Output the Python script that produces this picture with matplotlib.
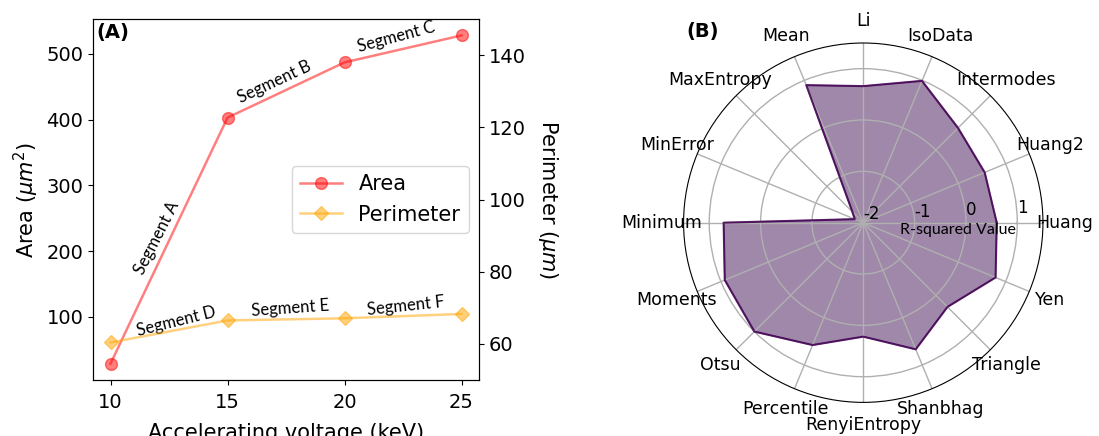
import numpy as np
import matplotlib
matplotlib.use("Agg")
import matplotlib.pyplot as plt

# ---------------- data ----------------
voltage = [10, 15, 20, 25]
area = [29, 403, 487, 528]
perimeter = [60.4, 66.5, 67.1, 68.3]

segment_labels = ["Segment A", "Segment B", "Segment C", "Segment D", "Segment E", "Segment F"]
segment_x = [12.0, 17.0, 22.2, 12.8, 17.7, 22.6]
segment_y = [220, 457, 525, 93, 113, 116]
segment_rot = [63, 25, 15, 14, 4, 6]

methods = ["Huang", "Huang2", "Intermodes", "IsoData", "Li", "Mean", "MaxEntropy",
           "MinError", "Minimum", "Moments", "Otsu", "Percentile", "RenyiEntropy",
           "Shanbhag", "Triangle", "Yen"]
r_squared = [0.60, 0.56, 0.61, 0.99, 0.66, 0.90, -1.70, -1.82, 0.72, 0.92, 1.00,
             0.58, 0.22, 0.67, 0.32, 0.79]
r_ticks = [-2, -1, 0, 1]

seg_font = "Lato"

fig = plt.figure(figsize=(10.99, 4.36), dpi=100)

# ---------------- panel A ----------------
ax = fig.add_axes([0.0846, 0.1284, 0.3513, 0.828])
la, = ax.plot(voltage, area, color="red", alpha=0.5, marker="o", markersize=8.5,
              linewidth=1.8, label="Area")
ax.set_xticks(voltage)
ax.set_yticks([100, 200, 300, 400, 500])
ax.tick_params(labelsize=14)
ax.tick_params(axis="x", pad=6)
ax.set_xlabel("Accelerating voltage (keV)", fontsize=15, labelpad=8)
ax.set_ylabel(r"Area ($\mu m^2$)", fontsize=15)

ax2 = ax.twinx()
lp, = ax2.plot(voltage, perimeter, color="orange", alpha=0.5, marker="D", markersize=7,
               linewidth=1.8, label="Perimeter")
ax2.set_ylim(50, 150)
ax2.set_yticks([60, 80, 100, 120, 140])
ax2.tick_params(labelsize=14)
ax2.set_ylabel(r"Perimeter ($\mu m$)", fontsize=15, rotation=270, labelpad=25)

ax2.legend(handles=[la, lp], loc="center right", fontsize=15)

for t, x, y, r in zip(segment_labels, segment_x, segment_y, segment_rot):
    ax.text(x, y, t, rotation=r, ha="center", va="center", fontsize=12,
            family=seg_font, rotation_mode="anchor")

ax.text(0.008, 0.99, "(A)", transform=ax.transAxes, fontsize=14, fontweight="bold",
        ha="left", va="top")

# ---------------- panel B ----------------
axp = fig.add_axes([0.622, 0.0771, 0.327, 0.8243], projection="polar")
theta = np.deg2rad(np.arange(len(methods)) * 360.0 / len(methods))
th_closed = np.append(theta, theta[0])
r_closed = np.append(r_squared, r_squared[0])
axp.fill(th_closed, r_closed, color="#411355", alpha=0.5)
axp.plot(th_closed, r_closed, color="#440154", linewidth=1.5, alpha=0.85)
axp.set_ylim(-2, 1.5)
axp.set_yticks(r_ticks)
axp.set_yticklabels([str(v) for v in r_ticks], fontsize=12)
axp.set_rlabel_position(2)
axp.set_xticks(theta)
axp.set_xticklabels(methods, fontsize=12.5)
axp.tick_params(axis="x", pad=5.5)
axp.grid(True, linewidth=1.0, color="#b0b0b0")
axp.text(np.deg2rad(-4.4), -0.15, "R-squared Value", ha="center", va="center",
         fontsize=11.5, family=seg_font)

fig.text(703 / 1099, 1 - 32 / 436, "(B)", fontsize=14, fontweight="bold",
         ha="center", va="center")

fig.savefig("out.png", dpi=100)
